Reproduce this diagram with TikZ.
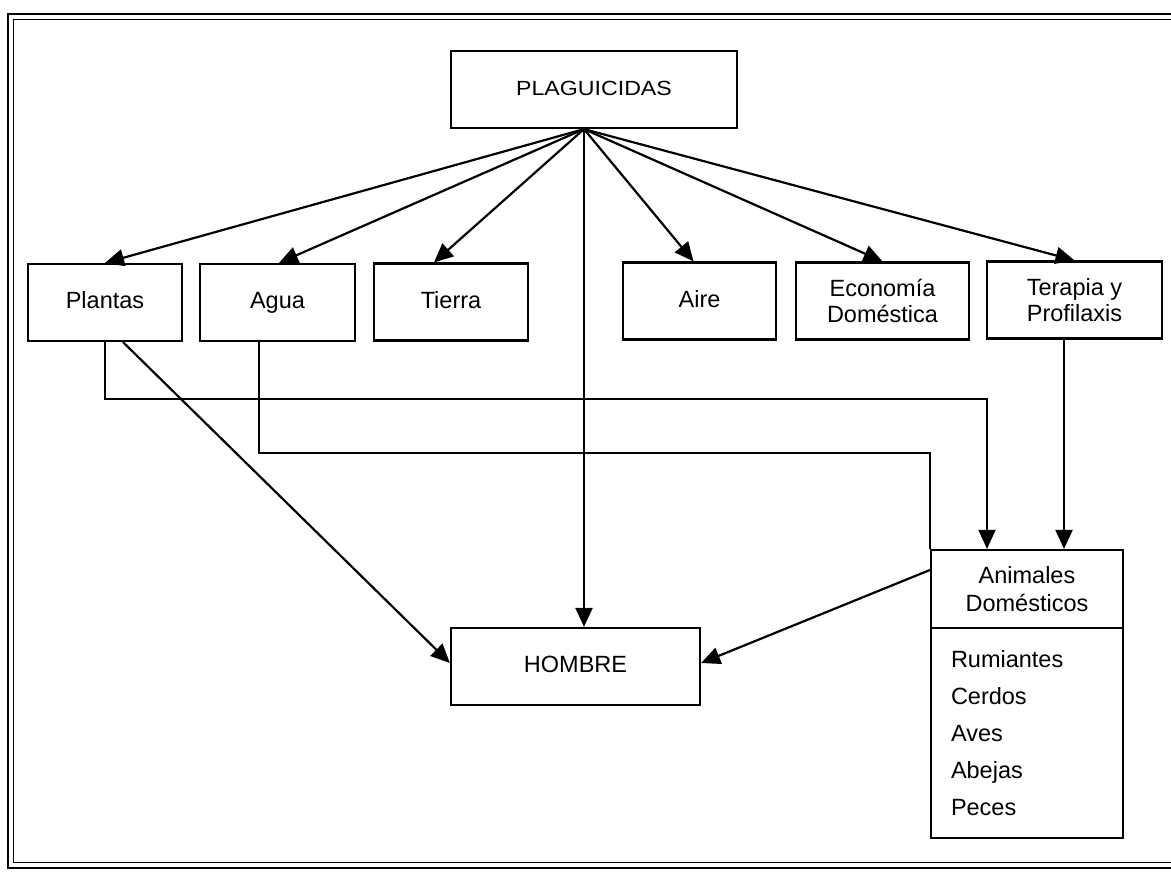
\documentclass[tikz,border=0pt]{standalone}
\usepackage{fontspec}
\usepackage{graphicx}
\setmainfont{Liberation Sans}
\usetikzlibrary{arrows.meta,calc}
\begin{document}
\begin{tikzpicture}[x=1pt,y=-1pt,
  box/.style={draw,line width=2.2pt,minimum height=77pt,inner sep=0pt,align=center,font=\fontsize{23.5}{26}\selectfont},
  one/.style={text height=17pt,text depth=5pt},
  arr/.style={line width=2.2pt,-{Triangle[length=19pt,width=17pt]}},
  ln/.style={line width=2.2pt},
  frameline/.style={line width=1.9pt}]
\useasboundingbox (0,0) rectangle (1171,871);
\draw[frameline] (1180,14) -- (8,14) -- (8,868) -- (1180,868);
\draw[frameline] (1180,19.5) -- (13.5,19.5) -- (13.5,862.5) -- (1180,862.5);

\node[box,one,minimum width=286pt] (plag) at (594,89.5) {\fontsize{20.5}{24}\selectfont\scalebox{1.13}[1]{PLAGUICIDAS}};
\node[box,one,minimum width=154pt] (plantas) at (105,302.5) {Plantas};
\node[box,one,minimum width=155pt] (agua) at (277.5,302.5) {Agua};
\node[box,one,minimum width=154pt] (tierra) at (451,302) {Tierra};
\node[box,one,minimum width=153pt] (aire) at (699.5,301) {Aire};
\node[box,minimum width=173pt] (econ) at (882.5,301) {Economía\\Doméstica};
\node[box,minimum width=175pt] (terapia) at (1074.5,300) {Terapia y\\Profilaxis};
\node[box,one,minimum width=249pt] (hombre) at (575.5,666.5) {HOMBRE};
\node[box,minimum width=192pt,minimum height=78pt,font=\fontsize{23.5}{28}\selectfont] (anim) at (1027,589) {Animales\\Domésticos};
\node[box,minimum width=192pt,minimum height=210pt,text width=152pt,align=left,font=\fontsize{23.5}{37}\selectfont] (animlist) at (1027,733) {Rumiantes\\Cerdos\\Aves\\Abejas\\Peces};

\coordinate (fan) at ([xshift=-10pt]plag.south);
\draw[arr] (fan) -- (plantas.north);
\draw[arr] (fan) -- ([xshift=1.5pt]agua.north);
\draw[arr] (fan) -- ([xshift=-17pt]tierra.north);
\draw[arr] (fan) -- (fan |- hombre.north);
\draw[arr] (fan) -- ([xshift=-6pt]aire.north);
\draw[arr] (fan) -- (econ.north);
\draw[arr] (fan) -- (terapia.north);

\draw[arr] ([xshift=18pt]plantas.south) -- ([yshift=3.5pt]hombre.west);
\draw[arr] ([yshift=19pt]anim.west) -- ([yshift=3.5pt]hombre.east);

\draw[arr,line width=1.6pt] (plantas.south) -- ++(0,57) -| ([xshift=-40pt]anim.north);
\draw[ln] ([xshift=-18.5pt]agua.south) -- ++(0,111) -| (anim.north west);
\draw[arr] ([xshift=-10.5pt]terapia.south) coordinate (t1) -- (t1 |- anim.north);
\end{tikzpicture}
\end{document}
